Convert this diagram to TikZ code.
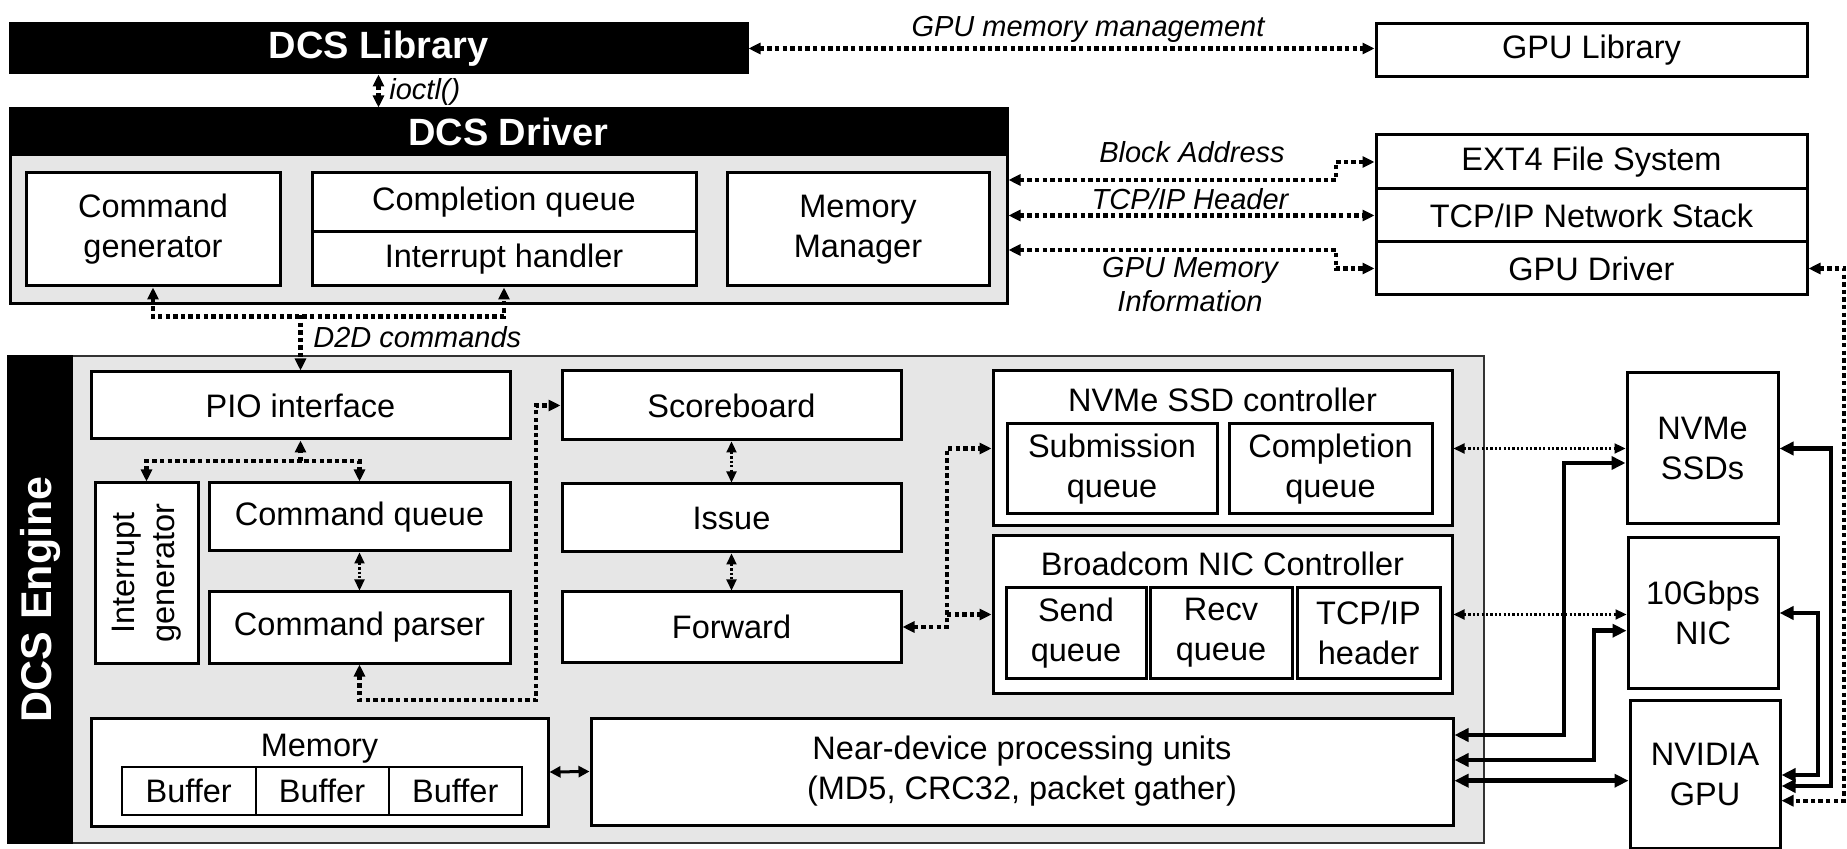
\documentclass[tikz,border=0pt]{standalone}
\usepackage{fontspec}
\setmainfont{Liberation Sans}
\usetikzlibrary{arrows.meta,calc}
\definecolor{bgray}{RGB}{230,230,230}
\newcommand\reg{\fontsize{16.25}{20}\selectfont}
\newcommand\itl{\fontsize{14.5}{17}\selectfont\itshape}
\newcommand\hdr{\fontsize{19}{22}\selectfont\bfseries}
\tikzset{
  box/.style={draw=black, line width=1.5pt, fill=white, inner sep=0pt, align=center, font=\reg},
  lbl/.style={font=\itl, inner sep=0pt, align=center},
  txt/.style={font=\reg, inner sep=0pt, align=center},
  dotth/.style={line width=2.2pt, dash pattern=on 2.2pt off 1.6pt, >={Triangle[length=6pt,width=5.5pt]}},
  dotthin/.style={line width=1.1pt, dash pattern=on 1.1pt off 1.1pt, >={Triangle[length=5.5pt,width=5pt]}},
  solidthick/.style={line width=2.3pt, >={Triangle[length=7pt,width=6.5pt]}},
  solidthin/.style={line width=1.5pt, >={Triangle[length=5.5pt,width=5.5pt]}},
}
\newcommand\bx[7][]{\node[box,minimum width={(#5-#3)*0.5pt},minimum height={(#6-#4)*0.5pt},#1] (#2) at ({(#3+#5)/2},{(#4+#6)/2}) {#7};}
\begin{document}
\begin{tikzpicture}[x=0.5pt,y=-0.5pt]
\useasboundingbox (0,0) rectangle (1847,849);
% ---------- top layer ----------
\bx[fill=black]{lib}{10}{24}{747}{73}{\textcolor{white}{\hdr DCS Library}}
\bx{glib}{1376}{24}{1807}{77}{GPU Library}
\node[lbl] (lgm) at (1088,29) {GPU memory management};
% ---------- driver ----------
\bx[fill=bgray]{drv}{10}{109}{1007}{304}{}
\bx[fill=black]{drvh}{10}{109}{1007}{155}{\textcolor{white}{\hdr DCS Driver}}
\bx{cg}{26}{173}{280}{286}{Command\\generator}
\bx{cpq}{312}{173}{696}{232}{Completion queue}
\bx{ih}{312}{232}{696}{286}{Interrupt handler}
\bx{mm}{727}{173}{989}{286}{Memory\\Manager}
\node[lbl,anchor=west] (lio) at (389,92) {ioctl()};
% ---------- host stack ----------
\bx{ext4}{1376}{135}{1807}{189}{EXT4 File System}
\bx{tcp}{1376}{189}{1807}{242}{TCP/IP Network Stack}
\bx{gd}{1376}{242}{1807}{295}{GPU Driver}
\node[lbl] (lba) at (1192,152) {Block Address};
\node[lbl] (ltcp) at (1190,199) {TCP/IP Header};
\node[lbl] (lgmi) at (1190,285) {GPU Memory\\Information};
\node[lbl,anchor=west] (ld2d) at (313,337) {D2D commands};
% ---------- engine ----------
\bx[fill=bgray,line width=1pt,draw=black!80]{eng}{8}{356}{1484}{843}{}
\bx[fill=black,line width=1pt]{engh}{8}{356}{72}{843}{\rotatebox{90}{\textcolor{white}{\fontsize{21.5}{24}\selectfont\bfseries DCS Engine}}}
\bx{pio}{91}{372}{510}{439}{PIO interface}
\bx{ig}{95}{483}{198}{663}{\rotatebox{90}{\begin{tabular}{@{}c@{}}Interrupt\\generator\end{tabular}}}
\bx{cq}{209}{483}{510}{551}{Command queue}
\bx{cp}{209}{592}{510}{663}{Command parser}
\bx{sb}{562}{371}{901}{440}{Scoreboard}
\bx{iss}{562}{484}{901}{552}{Issue}
\bx{fwd}{562}{592}{901}{662}{Forward}
\bx{nvc}{993}{371}{1452}{526}{}
\node[txt] (nvct) at (1222.5,400) {NVMe SSD controller};
\bx{sq}{1007}{424}{1217}{514}{Submission\\queue}
\bx{ccq}{1229}{424}{1432}{514}{Completion\\queue}
\bx{nicc}{993}{536}{1452}{693}{}
\node[txt] (nict) at (1222.5,564) {Broadcom NIC Controller};
\bx{sndq}{1006}{588}{1146}{678}{Send\\queue}
\bx{rcvq}{1150}{588}{1292}{678}{Recv\\queue}
\bx{tcph}{1297}{588}{1440}{678}{TCP/IP\\header}
\bx{mem}{91}{718}{548}{826}{}
\node[txt] (memt) at (319.5,749) {Memory};
\bx[line width=1pt]{buf1}{122}{767}{255.5}{815}{Buffer}
\bx[line width=1pt]{buf2}{255.5}{767}{388.6}{815}{Buffer}
\bx[line width=1pt]{buf3}{388.6}{767}{522}{815}{Buffer}
\bx{nd}{591}{718}{1453}{825}{Near-device processing units\\(MD5, CRC32, packet gather)}
% ---------- devices ----------
\bx{ssd}{1627}{373}{1778}{524}{NVMe\\SSDs}
\bx{nic}{1628}{538}{1778}{688}{10Gbps\\NIC}
\bx{gpu}{1630}{700}{1780}{848}{NVIDIA\\GPU}
% ---------- connectors: top ----------
\draw[dotth,<->] (lib.east) -- (lib.east -| glib.west);
\draw[dotth,<->] (lib.south) -- (lib.south |- drvh.north);
\draw[dotth,<->] ([yshift=13.25pt]drv.east) -- (1336,180) |- (ext4.west);
\draw[dotth,<->] (drv.east |- tcp.west) -- (tcp.west);
\draw[dotth,<->] ([yshift=-21.75pt]drv.east) -- (1336,250) |- (gd.west);
\draw[dotth,<->] (cg.south) -- ++(0,29) -| (ih.south);
\coordinate (d2d) at (300.5,315);
\draw[dotth,->] (d2d) -- (pio.north);
% ---------- connectors: engine ----------
\coordinate (pj) at (300.5,461);
\draw[dotth,->] (pj) -- (pio.south);
\draw[dotth,<->] (ig.north) |- (pj) -| (cq.north);
\draw[dotthin,<->] (cq.south) -- (cp.north);
\draw[dotth,<->] (cp.south) |- (536,700) |- (sb.west);
\draw[dotthin,<->] (sb.south) -- (iss.north);
\draw[dotthin,<->] (iss.south) -- (fwd.north);
\draw[dotth,<->] (fwd.east) -- (947,627) |- (nvc.west);
\coordinate (fj) at (947,614.5);
\draw[dotth,->] (fj) -- (nicc.west);
\draw[solidthin,<->] (mem.east) -- (nd.west);
\draw[dotthin,<->] (nvc.east) -- (nvc.east -| ssd.west);
\draw[dotthin,<->] (nicc.east) -- (nicc.east -| nic.west);
% ---------- connectors: devices ----------
\draw[solidthick,<->] ([yshift=18.25pt]nd.east) -- (1564,735) |- ([yshift=-7.25pt]ssd.west);
\draw[solidthick,<->] ([yshift=5.75pt]nd.east) -- (1594,760) |- ([yshift=-8.85pt]nic.west);
\coordinate (c3) at ([yshift=-4.6pt]nd.east);
\draw[solidthick,<->] (c3) -- (c3 -| gpu.west);
\draw[solidthick,<->] (ssd.east) -- (1831,448.5) |- ([yshift=-6pt]gpu.east);
\draw[solidthick,<->] (nic.east) -- (1818,613) |- ([yshift=-0.5pt]gpu.east);
\draw[dotth,<->] (gd.east) -- (1844,268.5) |- ([yshift=-13.35pt]gpu.east);
\end{tikzpicture}
\end{document}
